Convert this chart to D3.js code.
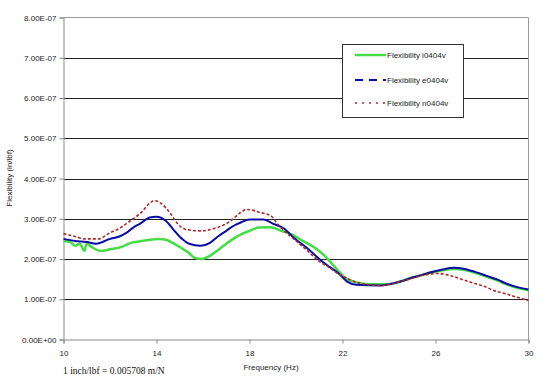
<!DOCTYPE html>
<html><head><meta charset="utf-8">
<script src="https://cdn.jsdelivr.net/npm/d3@7"></script>
<style>body{margin:0;background:#fff}svg{display:block}</style>
</head><body><svg id="c" width="549" height="392"></svg>
<script>
// Frequency (Hz) and flexibility (x1e-7 in/lbf)
const freqI = [10,10.3,10.5,10.7,10.9,11.0,11.2,11.6,12.0,12.5,12.9,13.3,13.7,14.1,14.4,14.7,15.1,15.4,15.6,15.9,16.3,16.6,17.0,17.3,17.7,18.0,18.4,18.9,19.35,19.6,20.0,20.2,20.7,21.0,21.3,21.8,22.1,22.6,23.3,24.0,24.5,25.0,25.4,25.8,26.3,26.8,27.2,27.7,28.2,28.7,29.0,29.4,30];
const valI  = [2.45,2.42,2.33,2.38,2.2,2.38,2.3,2.2,2.24,2.3,2.4,2.44,2.48,2.5,2.48,2.4,2.26,2.15,2.04,2.0,2.08,2.2,2.38,2.5,2.63,2.7,2.78,2.79,2.7,2.66,2.55,2.48,2.32,2.2,2.04,1.72,1.54,1.42,1.37,1.37,1.44,1.54,1.6,1.66,1.72,1.75,1.73,1.66,1.56,1.46,1.38,1.3,1.22];
const freqE = [10,10.5,11.0,11.4,12.0,12.4,12.7,13.0,13.3,13.7,14.0,14.4,14.7,15.1,15.4,15.9,16.3,16.6,17.0,17.3,17.6,18.0,18.6,19.0,19.5,19.9,20.5,21.0,21.4,21.8,22.2,22.6,23.6,24.2,24.6,25.0,25.4,25.8,26.3,26.8,27.2,27.7,28.2,28.7,29.0,29.4,30];
const valE  = [2.5,2.45,2.42,2.38,2.5,2.56,2.65,2.78,2.88,3.03,3.05,2.95,2.75,2.5,2.38,2.33,2.4,2.54,2.7,2.82,2.9,2.98,2.98,2.88,2.75,2.53,2.26,2.0,1.82,1.66,1.44,1.36,1.34,1.4,1.46,1.54,1.6,1.67,1.74,1.78,1.76,1.68,1.58,1.48,1.4,1.32,1.24];
const freqN = [10,10.5,10.9,11.5,12.0,12.4,12.7,13.0,13.3,13.7,13.9,14.2,14.6,14.9,15.3,15.9,16.6,17.2,17.6,17.9,18.5,18.9,19.2,19.35,19.9,20.5,21.0,21.4,21.8,22.2,22.6,23.6,24.5,25.0,25.4,26.1,26.8,27.2,27.7,28.1,28.5,29.0,29.5,30];
const valN  = [2.63,2.56,2.5,2.5,2.65,2.76,2.88,3.0,3.13,3.38,3.45,3.38,3.13,2.88,2.73,2.7,2.78,2.95,3.15,3.23,3.15,3.08,2.88,2.78,2.5,2.2,1.94,1.8,1.64,1.52,1.42,1.34,1.44,1.52,1.59,1.64,1.56,1.48,1.39,1.32,1.22,1.14,1.05,0.97];
const seriesNames = ["Flexibility i0404v","Flexibility e0404v","Flexibility n0404v"];
const xTicks = [10,14,18,22,26,30];
const yTicks = [0,1,2,3,4,5,6,7,8];
const yTickLabels = ["0.00E+00","1.00E-07","2.00E-07","3.00E-07","4.00E-07","5.00E-07","6.00E-07","7.00E-07","8.00E-07"];

const svg = d3.select("#c");
const L=63.5, R=528.5, T=17.5, B=339.5;
const x = d3.scaleLinear().domain([10,30]).range([L,R]);
const y = d3.scaleLinear().domain([0,8]).range([B,T]);

// gridlines
svg.append("g").selectAll("line").data(yTicks.filter(d=>d>0&&d<8)).join("line")
  .attr("x1",L).attr("x2",R).attr("y1",d=>Math.round(y(d))+0.5).attr("y2",d=>Math.round(y(d))+0.5)
  .attr("stroke","#222").attr("stroke-width",1);
// frame top and right
svg.append("path").attr("d",`M${L},${T}H${R}V${B}`).attr("fill","none").attr("stroke","#999");

// axes
const xAxis = svg.append("g").attr("transform",`translate(0,${B})`)
  .call(d3.axisBottom(x).tickValues(xTicks).tickSize(4).tickFormat(d3.format("d")));
const yAxis = svg.append("g").attr("transform",`translate(${L},0)`)
  .call(d3.axisLeft(y).tickValues(yTicks).tickSize(4).tickFormat((d,i)=>yTickLabels[i]));
[xAxis,yAxis].forEach(a=>{
  a.select(".domain").attr("stroke","#888");
  a.selectAll(".tick line").attr("stroke","#888");
  a.selectAll("text").attr("font-family","Liberation Sans, Arial, sans-serif").attr("font-size","8px").attr("fill","#222");
});
xAxis.selectAll("text").attr("dy","1.2em");
yAxis.selectAll("text").attr("x",-7);

// series
const line = d3.line().x(d=>x(d[0])).y(d=>y(d[1])).curve(d3.curveMonotoneX);
const data = [
  {pts:d3.zip(freqI,valI), color:"#44dd44", w:2.5, dash:null},
  {pts:d3.zip(freqE,valE), color:"#0a0aa8", w:2, dash:null},
  {pts:d3.zip(freqN,valN), color:"#b02828", w:1.6, dash:"3,2"}
];
data.forEach(s=>{
  svg.append("path").attr("d",line(s.pts)).attr("fill","none")
    .attr("stroke",s.color).attr("stroke-width",s.w)
    .attr("stroke-dasharray",s.dash).attr("stroke-linejoin","round");
});

// legend
const lg = svg.append("g");
lg.append("rect").attr("x",342.5).attr("y",44.5).attr("width",121).attr("height",73)
  .attr("fill","#fff").attr("stroke","#333");
const legStyles = [
  {color:"#44dd44", w:2.5, dash:null},
  {color:"#0a0aa8", w:2, dash:"8,6"},
  {color:"#b02828", w:1.6, dash:"2,5"}
];
const legY = [55,80,103];
seriesNames.forEach((n,i)=>{
  lg.append("line").attr("x1",355).attr("x2",386).attr("y1",legY[i]).attr("y2",legY[i])
    .attr("stroke",legStyles[i].color).attr("stroke-width",legStyles[i].w).attr("stroke-dasharray",legStyles[i].dash);
  lg.append("text").attr("x",387).attr("y",legY[i]+3).text(n)
    .attr("font-family","Liberation Sans, Arial, sans-serif").attr("font-size","8px").attr("fill","#222");
});

// titles
svg.append("text").attr("x",271).attr("y",370).attr("text-anchor","middle").text("Frequency (Hz)")
  .attr("font-family","Liberation Sans, Arial, sans-serif").attr("font-size","8px").attr("fill","#222");
svg.append("text").attr("transform","translate(12,178) rotate(-90)").attr("text-anchor","middle")
  .text("Flexibility (in/lbf)").attr("font-family","Liberation Sans, Arial, sans-serif").attr("font-size","8px").attr("fill","#222");
svg.append("text").attr("x",63).attr("y",374).text("1 inch/lbf = 0.005708 m/N")
  .attr("font-family","Liberation Serif, Times New Roman, serif").attr("font-size","9.5px").attr("fill","#111");
</script></body></html>
